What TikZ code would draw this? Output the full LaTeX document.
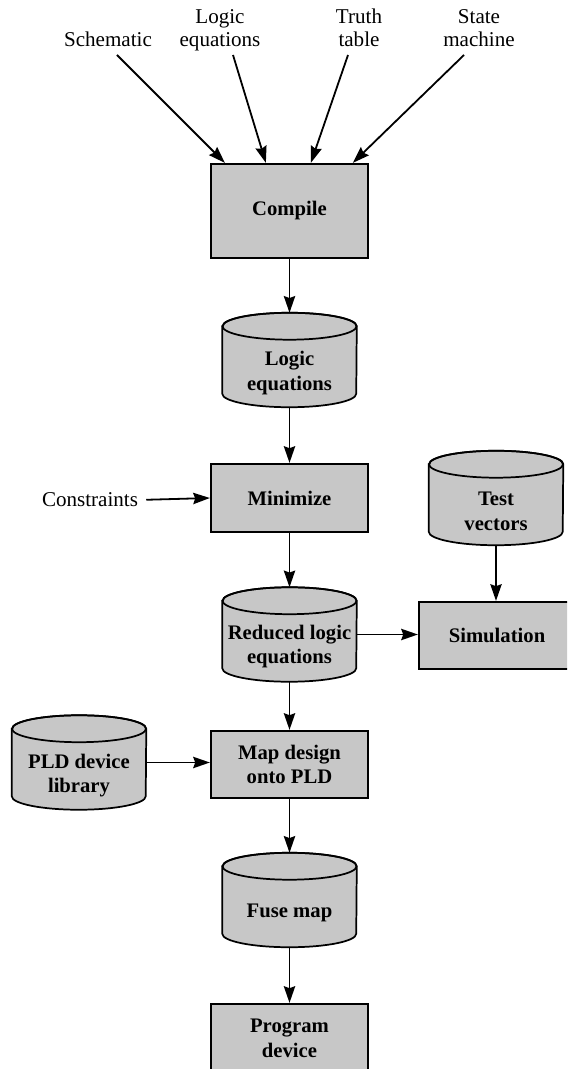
\documentclass[tikz,border=0pt]{standalone}
\usepackage{fontspec}
\setmainfont{Liberation Serif}
\usetikzlibrary{arrows.meta,calc,backgrounds}

\tikzset{
  lbl/.style={font=\fontsize{15.8}{17.5}\selectfont, align=center, inner sep=0pt, text depth=0pt},
  procbox/.style={draw=black, line width=1.7pt, fill=black!22, font=\bfseries\fontsize{15.5}{18.5}\selectfont, align=center, inner sep=0pt, minimum width=117.75pt},
  cylbox/.style={minimum width=100.5pt, minimum height=70.5pt, inner sep=0pt},
  cyltext/.style={font=\bfseries\fontsize{15.5}{18.5}\selectfont, align=center, inner sep=0pt},
  cylfill/.style={fill=black!22, draw=black, line width=1.3pt},
  arr/.style={line width=1.35pt, -{Stealth[length=12.5pt,width=8.5pt,inset=1.5pt]}},
}

\newcommand{\drawcyl}[1]{%
  \path[cylfill] ($(#1.north west)+(0,13.5)$) -- ($(#1.south west)+(0,-13.5)$)
     arc[start angle=180,end angle=360,x radius=50.25pt,y radius=10.1pt]
     -- ($(#1.north east)+(0,13.5)$)
     arc[start angle=0,end angle=180,x radius=50.25pt,y radius=10.1pt] -- cycle;
  \draw[line width=1.3pt] ($(#1.north)+(0,13.5)$) ellipse[x radius=50.25pt,y radius=10.1pt];
}

\begin{document}
\begin{tikzpicture}[x=0.75pt,y=-0.75pt]
\useasboundingbox (0,0) rectangle (567,1069);
\clip (0,0) rectangle (567,1069);

% top labels
\node[lbl, anchor=south] (sch) at (108,47) {Schematic};
\node[lbl, anchor=south] (leqlab) at (220,47) {Logic\\equations};
\node[lbl, anchor=south] (ttlab) at (359,47) {Truth\\table};
\node[lbl, anchor=south] (smlab) at (479,47) {State\\machine};

% process boxes
\node[procbox, minimum height=70.5pt] (cmp) at (289.5,211) {Compile};
\node[procbox, minimum height=51pt] (min) at (289.5,498) {Minimize};
\node[procbox, minimum height=50.25pt, minimum width=117pt] (sim) at (497,635.5) {Simulation};
\node[procbox, minimum height=50.25pt] (map) at (289.5,764.5) {Map design\\onto PLD};
\node[procbox, minimum height=51pt] (prog) at (289.5,1038) {Program\\device};

% cylinders (shape holders and texts)
\node[cylbox] (leq) at (289.5,360) {};
\node[cyltext] (leqt) at ($(leq)+(0,13)$) {Logic\\equations};
\node[cylbox] (tv) at (496,498) {};
\node[cyltext] (tvt) at ($(tv)+(0,13)$) {Test\\vectors};
\node[cylbox] (rle) at (289.5,634.5) {};
\node[cyltext] (rlet) at ($(rle)+(0,12)$) {Reduced logic\\equations};
\node[cylbox] (pld) at (79,762.5) {};
\node[cyltext] (pldt) at ($(pld)+(0,13)$) {PLD device\\library};
\node[cylbox] (fuse) at (289.5,900) {};
\node[cyltext] (fuset) at ($(fuse)+(0,13)$) {Fuse map};

\node[lbl, anchor=center] (cons) at (90,500) {Constraints};

\begin{scope}[on background layer]
  \drawcyl{leq}
  \drawcyl{tv}
  \drawcyl{rle}
  \drawcyl{pld}
  \drawcyl{fuse}
\end{scope}

% connectors
\draw[arr] ($(sch.south)+(9,8)$) -- ($(cmp.north west)+(15,0)$);
\draw[arr] ($(leqlab.south)+(13,8)$) -- ($(cmp.north west)+(56,0)$);
\draw[arr] ($(ttlab.south)+(-11,8)$) -- ($(cmp.north west)+(101,0)$);
\draw[arr] ($(smlab.south)+(-15,8)$) -- ($(cmp.north west)+(143,0)$);

\draw[arr] (cmp.south) -- (leq.north);
\draw[arr] (leq.south) -- (min.north);
\draw[arr, shorten <=6pt] (cons.east) -- (min.west);
\draw[arr] (min.south) -- (rle.north);
\draw[arr] (tv.south) -- (tv.south |- sim.north);
\draw[arr] (rle.east) -- (rle.east -| sim.west);
\draw[arr] (rle.south) -- (map.north);
\draw[arr] (pld.east) -- (pld.east -| map.west);
\draw[arr] (map.south) -- (fuse.north);
\draw[arr] (fuse.south) -- (prog.north);
\end{tikzpicture}
\end{document}
